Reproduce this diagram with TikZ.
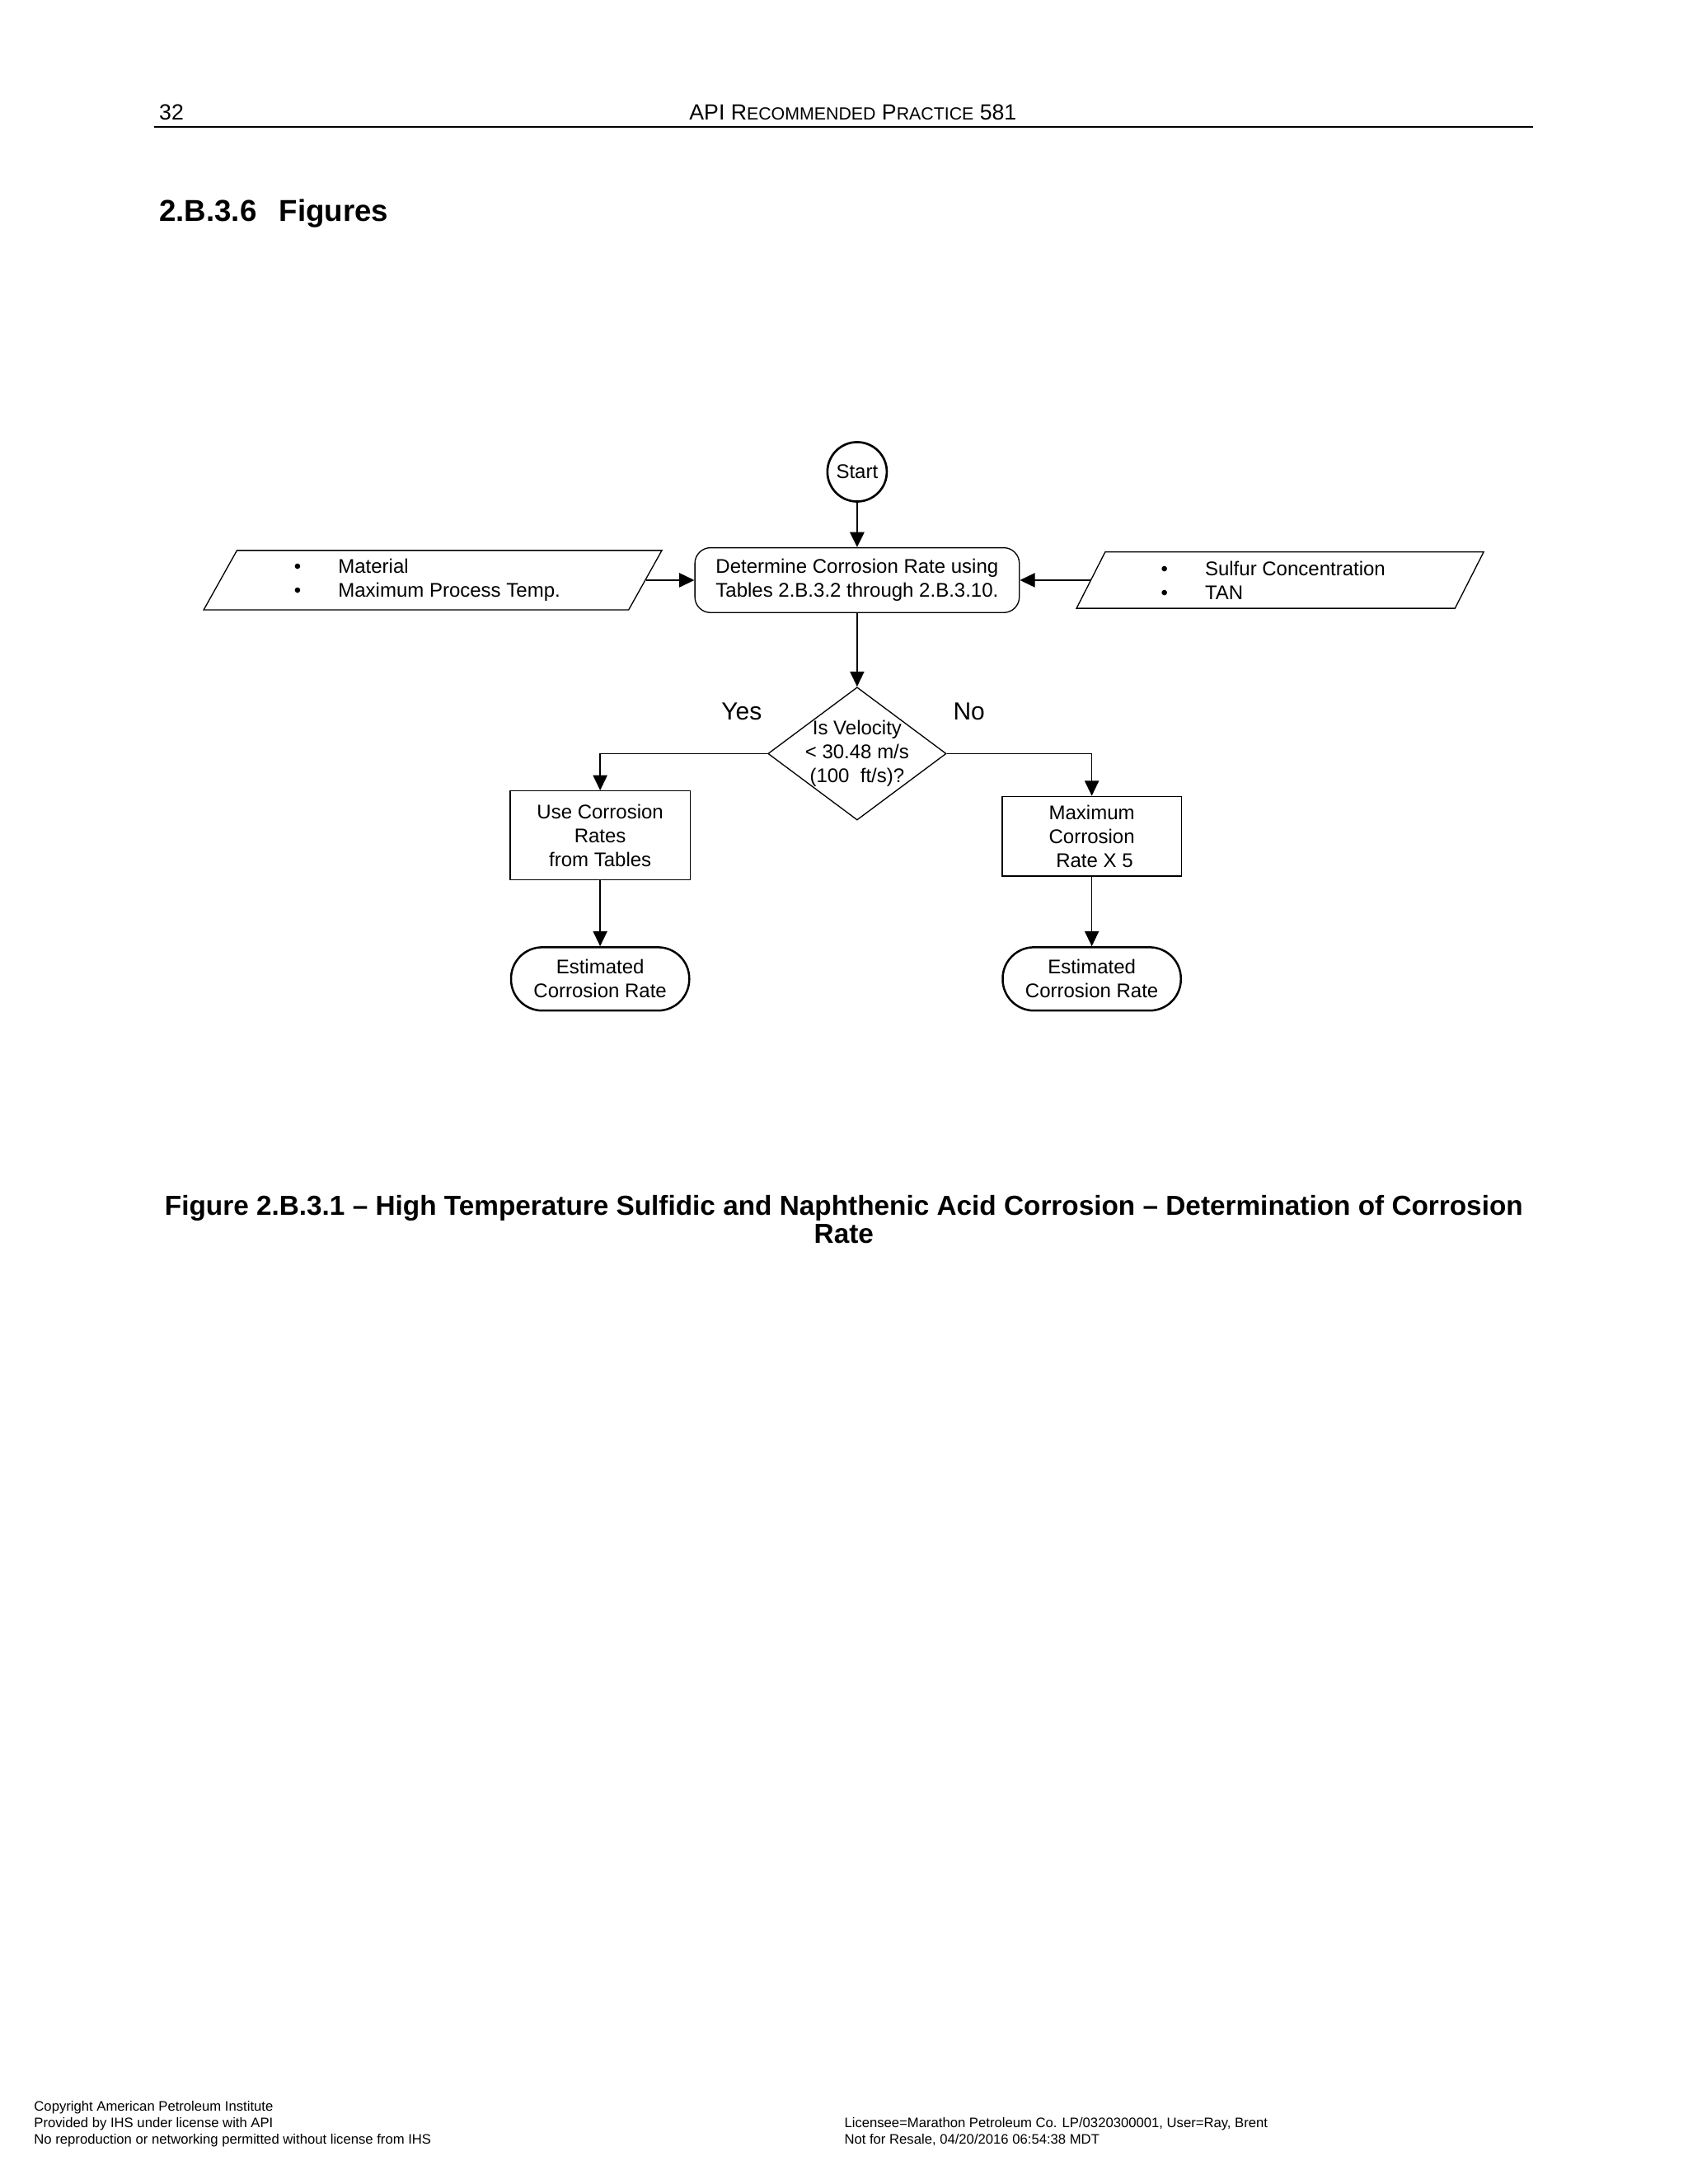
\documentclass[tikz,border=0pt]{standalone}
\usepackage{fontspec}
\setmainfont{Liberation Sans}
\usepackage{tikz}
\usetikzlibrary{positioning,arrows.meta,shapes.geometric}

\newcommand{\chartfont}{\fontsize{7.2}{8.7}\selectfont}
\newcommand{\smcap}[1]{{\fontsize{6.4}{7}\selectfont #1}}
\newcommand{\bulletitem}{\textbullet\hspace{13.5pt}}

\tikzset{
  process/.style={rectangle, draw, align=center, inner sep=1pt},
  stepbox/.style={rectangle, draw, rounded corners=0.2cm, align=center, inner sep=1pt},
  startstop/.style={circle, draw, line width=0.8pt, inner sep=0pt, minimum size=0.76cm},
  terminal/.style={rectangle, draw, line width=0.75pt, rounded corners=0.4cm, align=center,
    minimum width=2.28cm, minimum height=0.81cm, inner sep=1pt},
  decision/.style={diamond, draw, inner sep=0pt, minimum width=2.28cm, minimum height=1.70cm},
  datainput/.style={trapezium, draw, trapezium stretches=true, align=left, inner sep=1pt},
  pagetext/.style={inner sep=0pt}
}

\begin{document}
\begin{tikzpicture}[font=\chartfont, >={Triangle[length=5.5pt,width=5.2pt]}]
\useasboundingbox (0,0) rectangle (21.59,-27.94);
\fill[white] (0,0) rectangle (21.59,-27.94);

% page head
\node (pagenum) [pagetext, anchor=base west, font=\fontsize{8}{9.6}\selectfont] at (2.03,-1.529) {32};
\node (runhead) [pagetext, anchor=base, font=\fontsize{8}{9.6}\selectfont] at (10.911,-1.529)
  {API R\smcap{ECOMMENDED} P\smcap{RACTICE} 581};
\draw[line width=0.6pt] (1.971,-1.623) -- (19.608,-1.623);
\node (secttitle) [pagetext, anchor=base west, font=\fontsize{11}{13}\selectfont\bfseries] at (2.03,-2.836)
  {2.B.3.6\hspace{8.2pt}Figures};

% corrosion rate flow chart
\node (determine) [stepbox, minimum width=4.15cm, minimum height=0.83cm] at (10.964,-7.422)
  {Determine Corrosion Rate using\\Tables 2.B.3.2 through 2.B.3.10.};
\node (start) [startstop, above=0.57cm of determine] {Start};
\node (matinput) [datainput, left=0.62cm of determine, trapezium left angle=63.4, trapezium right angle=116.6,
  minimum width=5.87cm, minimum height=0.76cm]
  {\bulletitem Material\\\bulletitem Maximum Process Temp.\rule{4pt}{0pt}};
\node (sulfinput) [datainput, right=0.90cm of determine, trapezium left angle=65.5, trapezium right angle=114.5,
  minimum width=5.21cm, minimum height=0.72cm]
  {\bulletitem Sulfur Concentration\rule{5pt}{0pt}\\\bulletitem TAN};

\path[->] (start.south) edge [thick] (determine.north);
\path[->] (matinput.east) edge (determine.west);
\path[->] (sulfinput.west) edge (determine.east);

\node (velocity) [decision, below=0.94cm of determine,
  label={[align=center]center:Is Velocity\\< 30.48 m/s\\(100\ \ ft/s)?}] {};
\path[->] (determine.south) edge (velocity.north);

\node (yes) [font=\fontsize{9}{10.8}\selectfont] at ([shift={(-0.33,0.54)}]velocity.west) {Yes};
\node (no) [font=\fontsize{9}{10.8}\selectfont] at ([shift={(0.285,0.54)}]velocity.east) {No};

% the two branches
\node (usetables) [process, below=0.47cm of velocity.west, xshift=-2.14cm,
  minimum width=2.30cm, minimum height=1.14cm] {Use Corrosion\\Rates\\from Tables};
\node (maxrate) [process, below=0.54cm of velocity.east, xshift=1.855cm,
  minimum width=2.29cm, minimum height=1.02cm] {Maximum\\Corrosion\\\ Rate X 5};
\draw[->] (velocity.west) -| (usetables.north);
\draw[->] (velocity.east) -| (maxrate.north);

\node (estleft) [terminal, below=0.84cm of usetables] {Estimated\\Corrosion Rate};
\node (estright) [terminal, below=0.89cm of maxrate] {Estimated\\Corrosion Rate};
\path[->] (usetables.south) edge (estleft.north);
\path[->] (maxrate.south) edge (estright.north);

% caption
\node (figcaption) [pagetext, anchor=base, align=center, font=\fontsize{10}{10.2}\selectfont\bfseries] at (10.795,-15.908)
  {Figure 2.B.3.1 – High Temperature Sulfidic and Naphthenic Acid Corrosion – Determination of Corrosion\\Rate};

% page foot
\node (footleft) [pagetext, anchor=base west, align=left, font=\fontsize{5}{6}\selectfont] at (0.43,-27.429)
  {Copyright American Petroleum Institute\\Provided by IHS under license with API\\No reproduction or networking permitted without license from IHS};
\node (footright) [pagetext, anchor=base west, align=left, font=\fontsize{5}{6}\selectfont] at (10.795,-27.429)
  {Licensee=Marathon Petroleum Co. LP/0320300001, User=Ray, Brent\\Not for Resale, 04/20/2016 06:54:38 MDT};
\end{tikzpicture}
\end{document}
